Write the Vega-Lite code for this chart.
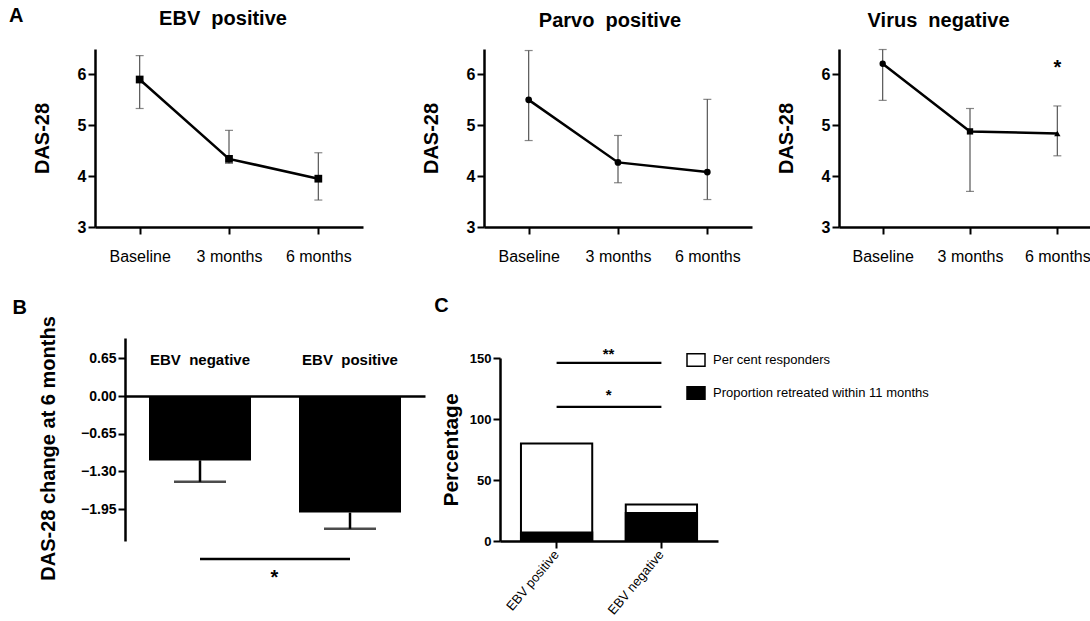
{
  "$schema": "https://vega.github.io/schema/vega-lite/v6.json",
  "background": "white",
  "padding": {"left": 9, "top": 5, "right": 0, "bottom": 0},
  "config": {
    "view": {"stroke": null},
    "font": "Liberation Sans",
    "axis": {"domainColor": "black", "domainWidth": 2.5, "tickColor": "black", "tickWidth": 2, "tickSize": 7, "labelColor": "black", "titleColor": "black", "grid": false},
    "title": {"color": "black"}
  },
  "datasets": {
    "A": [
      {"panel": "EBV", "time": "Baseline", "mean": 5.90, "lower": 5.33, "upper": 6.37},
      {"panel": "EBV", "time": "3 months", "mean": 4.34, "lower": 4.25, "upper": 4.90},
      {"panel": "EBV", "time": "6 months", "mean": 3.95, "lower": 3.53, "upper": 4.46},
      {"panel": "Parvo", "time": "Baseline", "mean": 5.50, "lower": 4.70, "upper": 6.47},
      {"panel": "Parvo", "time": "3 months", "mean": 4.27, "lower": 3.87, "upper": 4.80},
      {"panel": "Parvo", "time": "6 months", "mean": 4.08, "lower": 3.54, "upper": 5.51},
      {"panel": "Neg", "time": "Baseline", "mean": 6.21, "lower": 5.49, "upper": 6.49},
      {"panel": "Neg", "time": "3 months", "mean": 4.88, "lower": 3.70, "upper": 5.33},
      {"panel": "Neg", "time": "6 months", "mean": 4.84, "lower": 4.40, "upper": 5.38}
    ],
    "B": [
      {"group": "EBV negative", "label": "EBV\u00a0 negative", "value": -1.11, "err": -1.48},
      {"group": "EBV positive", "label": "EBV\u00a0 positive", "value": -2.01, "err": -2.29}
    ],
    "C": [
      {"group": "EBV positive", "series": "Per cent responders", "value": 80},
      {"group": "EBV negative", "series": "Per cent responders", "value": 30},
      {"group": "EBV positive", "series": "Proportion retreated within 11 months", "value": 7},
      {"group": "EBV negative", "series": "Proportion retreated within 11 months", "value": 23}
    ]
  },
  "spacing": 32,
  "columns": 1,
  "align": "none",
  "resolve": {"scale": {"fill": "independent", "shape": "independent"}, "legend": {"fill": "independent", "shape": "independent"}},
  "concat": [
    {
      "spacing": 58,
      "hconcat": [
        {
          "width": 268, "height": 178,
          "title": {"text": "A", "anchor": "start", "frame": "bounds", "fontSize": 20, "fontWeight": "bold", "dx": -23, "dy": 17, "offset": 0},
          "data": {"name": "A"},
          "transform": [{"filter": "datum.panel === 'EBV'"}],
          "encoding": {
            "x": {"field": "time", "type": "ordinal", "sort": ["Baseline", "3 months", "6 months"], "scale": {"type": "point", "padding": 0.5},
                  "axis": {"title": null, "labelAngle": 0, "labelFontSize": 16, "labelPadding": 14}}
          },
          "layer": [
            {"mark": {"type": "rule", "color": "#555", "strokeWidth": 1.2},
             "encoding": {"y": {"field": "lower", "type": "quantitative", "title": "DAS-28", "scale": {"domain": [3, 6.5], "nice": false, "zero": false},
                                "axis": {"values": [3, 4, 5, 6], "format": "d", "labelFontSize": 16, "labelFontWeight": "bold", "titleFontSize": 20, "titleFontWeight": "bold", "titlePadding": 25}},
                          "y2": {"field": "upper"}}},
            {"mark": {"type": "tick", "color": "#555", "size": 8, "thickness": 1.2}, "encoding": {"y": {"field": "lower", "type": "quantitative", "title": "DAS-28"}}},
            {"mark": {"type": "tick", "color": "#555", "size": 8, "thickness": 1.2}, "encoding": {"y": {"field": "upper", "type": "quantitative", "title": "DAS-28"}}},
            {"mark": {"type": "line", "color": "black", "strokeWidth": 2.5}, "encoding": {"y": {"field": "mean", "type": "quantitative", "title": "DAS-28"}}},
            {"mark": {"type": "point", "shape": "square", "filled": true, "color": "black", "opacity": 1, "size": 60}, "encoding": {"y": {"field": "mean", "type": "quantitative", "title": "DAS-28"}}},
            {"data": {"values": [{"time": "3 months", "name": "EBV\u00a0 positive"}]},
             "mark": {"type": "text", "fontSize": 20, "fontWeight": "bold", "baseline": "middle", "dx": -6},
             "encoding": {"y": {"datum": 7.09}, "text": {"field": "name"}}}
          ]
        },
        {
          "spacing": 24,
          "hconcat": [
            {
              "width": 268, "height": 178,
              "title": {"text": "Parvo\u00a0 positive", "fontSize": 20, "fontWeight": "bold", "offset": 18, "dx": -8},
              "data": {"name": "A"},
              "transform": [{"filter": "datum.panel === 'Parvo'"}],
              "encoding": {
                "x": {"field": "time", "type": "ordinal", "sort": ["Baseline", "3 months", "6 months"], "scale": {"type": "point", "padding": 0.5},
                      "axis": {"title": null, "labelAngle": 0, "labelFontSize": 16, "labelPadding": 14}}
              },
              "layer": [
                {"mark": {"type": "rule", "color": "#555", "strokeWidth": 1.2},
                 "encoding": {"y": {"field": "lower", "type": "quantitative", "title": "DAS-28", "scale": {"domain": [3, 6.5], "nice": false, "zero": false},
                                    "axis": {"values": [3, 4, 5, 6], "format": "d", "labelFontSize": 16, "labelFontWeight": "bold", "titleFontSize": 20, "titleFontWeight": "bold", "titlePadding": 25}},
                              "y2": {"field": "upper"}}},
                {"mark": {"type": "tick", "color": "#555", "size": 8, "thickness": 1.2}, "encoding": {"y": {"field": "lower", "type": "quantitative", "title": "DAS-28"}}},
                {"mark": {"type": "tick", "color": "#555", "size": 8, "thickness": 1.2}, "encoding": {"y": {"field": "upper", "type": "quantitative", "title": "DAS-28"}}},
                {"mark": {"type": "line", "color": "black", "strokeWidth": 2.5}, "encoding": {"y": {"field": "mean", "type": "quantitative", "title": "DAS-28"}}},
                {"mark": {"type": "point", "shape": "circle", "filled": true, "color": "black", "opacity": 1, "size": 45}, "encoding": {"y": {"field": "mean", "type": "quantitative", "title": "DAS-28"}}}
              ]
            },
            {
              "width": 262, "height": 178,
              "title": {"text": "Virus\u00a0 negative", "fontSize": 20, "fontWeight": "bold", "offset": 18, "frame": "bounds"},
              "data": {"name": "A"},
              "transform": [{"filter": "datum.panel === 'Neg'"}],
              "encoding": {
                "x": {"field": "time", "type": "ordinal", "sort": ["Baseline", "3 months", "6 months"], "scale": {"type": "point", "padding": 0.5},
                      "axis": {"title": null, "labelAngle": 0, "labelFontSize": 16, "labelPadding": 14}}
              },
              "layer": [
                {"mark": {"type": "rule", "color": "#555", "strokeWidth": 1.2},
                 "encoding": {"y": {"field": "lower", "type": "quantitative", "title": "DAS-28", "scale": {"domain": [3, 6.5], "nice": false, "zero": false},
                                    "axis": {"values": [3, 4, 5, 6], "format": "d", "labelFontSize": 16, "labelFontWeight": "bold", "titleFontSize": 20, "titleFontWeight": "bold", "titlePadding": 25}},
                              "y2": {"field": "upper"}}},
                {"mark": {"type": "tick", "color": "#555", "size": 8, "thickness": 1.2}, "encoding": {"y": {"field": "lower", "type": "quantitative", "title": "DAS-28"}}},
                {"mark": {"type": "tick", "color": "#555", "size": 8, "thickness": 1.2}, "encoding": {"y": {"field": "upper", "type": "quantitative", "title": "DAS-28"}}},
                {"mark": {"type": "line", "color": "black", "strokeWidth": 2.5}, "encoding": {"y": {"field": "mean", "type": "quantitative", "title": "DAS-28"}}},
                {"mark": {"type": "point", "filled": true, "color": "black", "opacity": 1, "size": 40},
                 "encoding": {"y": {"field": "mean", "type": "quantitative", "title": "DAS-28"},
                              "shape": {"field": "time", "type": "nominal", "scale": {"domain": ["Baseline", "3 months", "6 months"], "range": ["circle", "square", "triangle-up"]}, "legend": null}}},
                {"data": {"values": [{"time": "6 months", "value": 6.12, "mark": "*"}]},
                 "mark": {"type": "text", "fontSize": 20, "fontWeight": "bold", "baseline": "middle"},
                 "encoding": {"y": {"field": "value", "type": "quantitative", "title": "DAS-28"}, "text": {"field": "mark"}}}
              ]
            }
          ]
        }
      ]
    },
    {
      "spacing": 9,
      "resolve": {"scale": {"fill": "independent"}, "legend": {"fill": "independent"}},
      "hconcat": [
        {
          "width": 330, "height": 203,
          "title": {"text": "B", "anchor": "start", "frame": "bounds", "fontSize": 20, "fontWeight": "bold", "dx": -26, "dy": 6, "offset": 4},
          "layer": [
            {"data": {"name": "B"},
             "mark": {"type": "bar", "color": "black"},
             "encoding": {
               "x": {"field": "group", "type": "nominal", "scale": {"domain": ["EBV negative", "EBV positive"], "range": [30, 330], "paddingInner": 0.32, "paddingOuter": 0.16},
                     "axis": {"orient": "top", "offset": -58, "labels": false, "ticks": false, "title": null, "domainWidth": 2.5}},
               "y": {"field": "value", "type": "quantitative", "title": "DAS-28 change at 6 months", "scale": {"domain": [-2.5, 1.0], "nice": false, "zero": false},
                     "axis": {"offset": -30, "values": [0.65, 0, -0.65, -1.3, -1.95], "format": ".2f", "labelFontSize": 14, "labelFontWeight": "bold", "titleFontSize": 20, "titleFontWeight": "bold", "titlePadding": 22, "titleY": 110}}
             }},
            {"data": {"name": "B"},
             "mark": {"type": "rule", "color": "black", "strokeWidth": 2.5},
             "encoding": {"x": {"field": "group", "type": "nominal"},
                          "y": {"field": "value", "type": "quantitative", "title": "DAS-28 change at 6 months"}, "y2": {"field": "err"}}},
            {"data": {"name": "B"},
             "mark": {"type": "tick", "color": "black", "size": 52, "thickness": 2.5},
             "encoding": {"x": {"field": "group", "type": "nominal"},
                          "y": {"field": "err", "type": "quantitative", "title": "DAS-28 change at 6 months"}}},
            {"data": {"name": "B"},
             "mark": {"type": "text", "fontSize": 15, "fontWeight": "bold", "baseline": "middle"},
             "encoding": {"x": {"field": "group", "type": "nominal"},
                          "y": {"datum": 0.62}, "text": {"field": "label"}}},
            {"data": {"values": [{"from": "EBV negative", "to": "EBV positive"}]},
             "mark": {"type": "rule", "color": "black", "strokeWidth": 2.5},
             "encoding": {"x": {"field": "from", "type": "nominal"}, "x2": {"field": "to"}, "y": {"datum": -2.81}}},
            {"data": {"values": [{"group": "EBV negative", "mark": "*"}]},
             "mark": {"type": "text", "fontSize": 20, "fontWeight": "bold", "baseline": "middle"},
             "encoding": {"x": {"field": "group", "type": "nominal", "bandPosition": 1.23}, "y": {"datum": -3.14}, "text": {"field": "mark"}}}
          ]
        },
        {
          "width": 218, "height": 203,
          "title": {"text": "C", "anchor": "start", "frame": "bounds", "fontSize": 20, "fontWeight": "bold", "dx": -6, "offset": 22},
          "layer": [
            {"data": {"name": "C"},
             "mark": {"type": "bar", "stroke": "black", "strokeWidth": 2, "opacity": 1},
             "encoding": {
               "x": {"field": "group", "type": "nominal", "scale": {"domain": ["EBV positive", "EBV negative"], "paddingInner": 0.32, "paddingOuter": 0.2},
                     "axis": {"title": null, "labelAngle": -50, "labelFontSize": 13, "labelPadding": 4}},
               "y": {"field": "value", "type": "quantitative", "stack": null, "title": "Percentage", "scale": {"domain": [0, 150], "nice": false, "range": [203, 20]},
                     "axis": {"values": [0, 50, 100, 150], "labelFontSize": 13, "labelFontWeight": "bold", "titleFontSize": 21, "titleFontWeight": "bold", "titlePadding": 8}},
               "fill": {"field": "series", "type": "nominal", "sort": null,
                        "scale": {"domain": ["Per cent responders", "Proportion retreated within 11 months"], "range": ["white", "black"]},
                        "legend": {"title": null, "orient": "none", "legendX": 186, "legendY": 12, "symbolType": "M-1,-0.7L1,-0.7L1,0.7L-1,0.7Z", "symbolSize": 324, "symbolStrokeColor": "black", "symbolStrokeWidth": 1.5, "symbolOpacity": 1, "labelFont": "Liberation Sans", "labelFontSize": 13, "labelLimit": 400, "labelColor": "black", "rowPadding": 13, "labelOffset": 7}}
             }},
            {"data": {"values": [{"from": "EBV positive", "to": "EBV negative"}]},
             "mark": {"type": "rule", "color": "black", "strokeWidth": 2.2},
             "encoding": {"x": {"field": "from", "type": "nominal"}, "x2": {"field": "to"}, "y": {"datum": 146}}},
            {"data": {"values": [{"from": "EBV positive", "to": "EBV negative"}]},
             "mark": {"type": "rule", "color": "black", "strokeWidth": 2.2},
             "encoding": {"x": {"field": "from", "type": "nominal"}, "x2": {"field": "to"}, "y": {"datum": 110}}},
            {"data": {"values": [{"group": "EBV positive", "mark": "**"}]},
             "mark": {"type": "text", "fontSize": 15, "fontWeight": "bold", "baseline": "middle"},
             "encoding": {"x": {"field": "group", "type": "nominal", "bandPosition": 1.23}, "y": {"datum": 153}, "text": {"field": "mark"}}},
            {"data": {"values": [{"group": "EBV positive", "mark": "*"}]},
             "mark": {"type": "text", "fontSize": 15, "fontWeight": "bold", "baseline": "middle"},
             "encoding": {"x": {"field": "group", "type": "nominal", "bandPosition": 1.23}, "y": {"datum": 120}, "text": {"field": "mark"}}}
          ]
        }
      ]
    }
  ]
}
